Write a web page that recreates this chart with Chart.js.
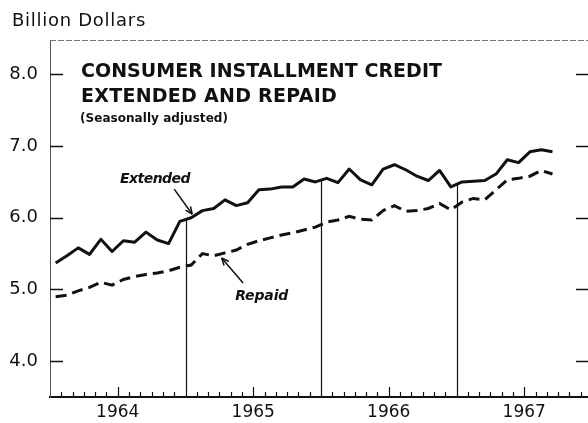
<!DOCTYPE html>
<html>
<head>
<meta charset="utf-8">
<script src="https://cdn.jsdelivr.net/npm/chart.js@4.4.1/dist/chart.umd.min.js"></script>
<style>
body{margin:0;background:#fff;overflow:hidden}
#wrap{width:600px;height:423px}
</style>
</head>
<body>
<div id="wrap"><canvas id="myChart" width="600" height="423"></canvas></div>
<script>
'use strict';
// monthly, Jan 1964 .. Sep 1967, billion dollars
let years = ['1964', '1965', '1966', '1967'];
let extended = [
  5.37, 5.47, 5.58, 5.49, 5.70, 5.53, 5.68, 5.66, 5.80, 5.69, 5.64, 5.95,
  6.00, 6.10, 6.13, 6.25, 6.17, 6.21, 6.39, 6.40, 6.43, 6.43, 6.54, 6.50,
  6.55, 6.49, 6.68, 6.53, 6.46, 6.68, 6.74, 6.67, 6.58, 6.52, 6.66, 6.43,
  6.50, 6.51, 6.52, 6.61, 6.81, 6.77, 6.92, 6.95, 6.92];
let repaid = [
  4.90, 4.92, 4.98, 5.03, 5.10, 5.06, 5.14, 5.18, 5.21, 5.23, 5.26, 5.31,
  5.34, 5.50, 5.47, 5.51, 5.55, 5.63, 5.68, 5.72, 5.76, 5.79, 5.83, 5.87,
  5.94, 5.97, 6.02, 5.98, 5.97, 6.10, 6.17, 6.09, 6.10, 6.13, 6.20, 6.11,
  6.22, 6.27, 6.25, 6.39, 6.53, 6.55, 6.58, 6.66, 6.61];
let yTicks = [4, 5, 6, 7, 8];

let ink = '#111';
let font = '"DejaVu Sans", sans-serif';

function toPoints(arr) {
  return arr.map((v, i) => ({x: i + 0.5, y: v}));
}

function fitText(ctx, text, x, y, w) {
  ctx.letterSpacing = '0px';
  let m = ctx.measureText(text).width;
  ctx.letterSpacing = ((w - m) / text.length) + 'px';
  ctx.fillText(text, x, y);
  ctx.letterSpacing = '0px';
}

function arrow(ctx, x1, y1, x2, y2) {
  ctx.beginPath();
  ctx.moveTo(x1, y1);
  ctx.lineTo(x2, y2);
  ctx.stroke();
  let a = Math.atan2(y2 - y1, x2 - x1);
  ctx.beginPath();
  ctx.moveTo(x2, y2);
  ctx.lineTo(x2 - 8 * Math.cos(a - 0.4), y2 - 8 * Math.sin(a - 0.4));
  ctx.moveTo(x2, y2);
  ctx.lineTo(x2 - 8 * Math.cos(a + 0.4), y2 - 8 * Math.sin(a + 0.4));
  ctx.stroke();
}

let decor = {
  id: 'decor',
  beforeDatasetsDraw(chart) {
    let ctx = chart.ctx;
    let a = chart.chartArea;
    let xs = chart.scales.x;
    let ys = chart.scales.y;
    ctx.save();
    // dashed top frame
    ctx.lineWidth = 1;
    ctx.strokeStyle = '#777';
    ctx.setLineDash([6, 2]);
    ctx.beginPath();
    ctx.moveTo(a.left, a.top + 0.5);
    ctx.lineTo(a.right, a.top + 0.5);
    ctx.stroke();
    ctx.setLineDash([]);
    ctx.strokeStyle = ink;
    // inward value ticks, both sides
    ctx.lineWidth = 1.3;
    yTicks.forEach(v => {
      let y = Math.round(ys.getPixelForValue(v)) + 0.5;
      ctx.beginPath();
      ctx.moveTo(a.left, y);
      ctx.lineTo(a.left + 13, y);
      ctx.moveTo(a.right - 16, y);
      ctx.lineTo(a.right, y);
      ctx.stroke();
    });
    // month ticks on the time axis
    ctx.lineWidth = 1.2;
    for (let m = 1; m < 48; m++) {
      if (m % 12 === 0) continue;
      let x = Math.round(xs.getPixelForValue(m)) + 0.5;
      let len = m % 12 === 6 ? 10 : 5;
      ctx.beginPath();
      ctx.moveTo(x, a.bottom);
      ctx.lineTo(x, a.bottom - len);
      ctx.stroke();
    }
    // year dividers up to the Extended line
    for (let k = 1; k < years.length; k++) {
      let m = k * 12;
      let x = Math.round(xs.getPixelForValue(m)) + 0.5;
      let top = ys.getPixelForValue((extended[m - 1] + extended[m]) / 2);
      ctx.beginPath();
      ctx.moveTo(x, a.bottom);
      ctx.lineTo(x, top);
      ctx.stroke();
    }
    ctx.restore();
  },
  afterDraw(chart) {
    let ctx = chart.ctx;
    let xs = chart.scales.x;
    let ys = chart.scales.y;
    let px = v => xs.getPixelForValue(v);
    let py = v => ys.getPixelForValue(v);
    ctx.save();
    ctx.fillStyle = ink;
    ctx.strokeStyle = ink;
    ctx.textBaseline = 'alphabetic';
    ctx.textAlign = 'left';

    ctx.font = '18px ' + font;
    fitText(ctx, 'Billion Dollars', 12, 26, 134);

    ctx.font = 'bold 19px ' + font;
    fitText(ctx, 'CONSUMER INSTALLMENT CREDIT', 81, 77, 361);
    fitText(ctx, 'EXTENDED AND REPAID', 81, 102, 256);
    ctx.font = 'bold 12px ' + font;
    fitText(ctx, '(Seasonally adjusted)', 80, 122, 148);

    ctx.font = 'italic bold 14px ' + font;
    fitText(ctx, 'Extended', px(6.2), py(6.49), 70);
    fitText(ctx, 'Repaid', px(16.4), py(4.85), 53);

    ctx.lineWidth = 1.5;
    arrow(ctx, px(11.0), py(6.40), px(12.6), py(6.05));
    arrow(ctx, px(17.1), py(5.09), px(15.2), py(5.44));
    ctx.restore();
  }
};

let ctx = document.getElementById('myChart').getContext('2d');
let myChart = new Chart(ctx, {
  type: 'line',
  data: {
    datasets: [
      {label: 'Extended', data: toPoints(extended), borderColor: ink, borderWidth: 3,
        pointRadius: 0, tension: 0, borderJoinStyle: 'round'},
      {label: 'Repaid', data: toPoints(repaid), borderColor: ink, borderWidth: 3,
        borderDash: [11, 6], pointRadius: 0, tension: 0}
    ]
  },
  options: {
    responsive: false,
    animation: false,
    layout: {padding: {top: 40, right: 8, left: 0, bottom: 0}},
    plugins: {legend: {display: false}, tooltip: {enabled: false}},
    scales: {
      x: {
        type: 'linear', min: 0, max: 48,
        grid: {display: false, drawTicks: false},
        border: {display: true, color: ink, width: 2},
        afterBuildTicks: s => { s.ticks = years.map((y, i) => ({value: i * 12 + 6})); },
        afterFit: s => { s.height = 26; },
        ticks: {
          autoSkip: false, maxRotation: 0, padding: 5, color: ink,
          font: {family: font, size: 17},
          callback: v => years[Math.floor(v / 12)]
        }
      },
      y: {
        min: 3.5, max: 8.48,
        grid: {display: false, drawTicks: false},
        border: {display: true, color: '#555', width: 1, dash: [5, 2]},
        afterBuildTicks: s => { s.ticks = yTicks.map(v => ({value: v})); },
        afterFit: s => { s.width = 50; },
        ticks: {
          padding: 12, color: ink,
          font: {family: font, size: 18},
          callback: v => v.toFixed(1)
        }
      }
    }
  },
  plugins: [decor]
});
</script>
</body>
</html>
